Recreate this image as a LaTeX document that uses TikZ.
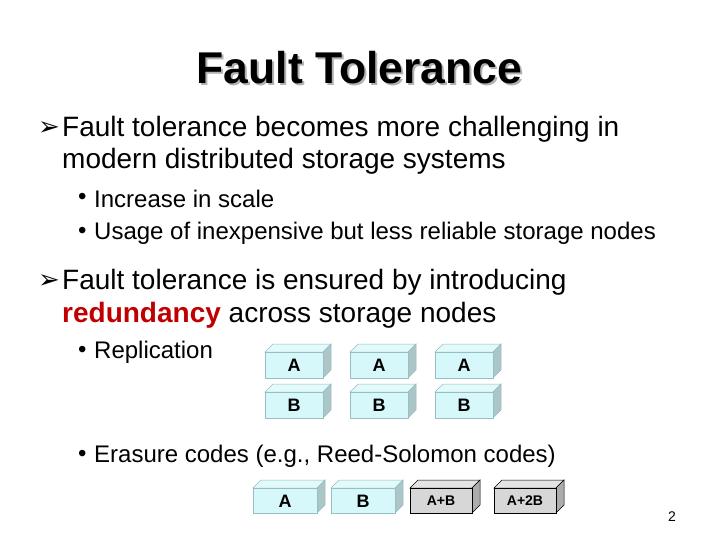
\documentclass[tikz,border=0pt]{standalone}
\usepackage{fontspec}
\setmainfont{Liberation Sans}
\newfontfamily\djfont{DejaVu Sans}
\definecolor{boxc}{RGB}{215,248,250}
\definecolor{boxe}{RGB}{150,190,195}
\definecolor{grayc}{RGB}{215,215,215}
\definecolor{redt}{RGB}{192,0,0}
\tikzset{
 main/.style={anchor=west,font=\fontsize{28}{32}\selectfont,inner sep=0,align=left},
 sub/.style={anchor=west,font=\fontsize{24}{28}\selectfont,inner sep=0},
 arr/.style={anchor=west,font=\djfont\fontsize{26}{28}\selectfont,inner sep=0},
 lbl/.style={font=\bfseries\fontsize{18}{20}\selectfont,inner sep=0},
 slbl/.style={font=\bfseries\fontsize{14}{16}\selectfont,inner sep=0}
}
\newcommand{\mycube}[6]{% x y w h fill edge
 \fill[#5!70!white,draw=#6,line width=0.5pt] (#1,#2+#4)--++(8,-8)--++(#3,0)--++(-8,8)--cycle;
 \fill[#5!80!black,draw=#6,line width=0.5pt] (#1+#3,#2)--++(8,-8)--++(0,#4)--++(-8,8)--cycle;
 \draw[fill=#5,draw=#6,line width=0.5pt] (#1,#2) rectangle ++(#3,#4);
}
\begin{document}
\begin{tikzpicture}[x=1pt,y=-1pt]
\useasboundingbox (0,0) rectangle (720,540);
\node[font=\bfseries\fontsize{44.5}{48}\selectfont,text=gray!60,inner sep=0] at (361.5,69.5) {Fault Tolerance};
\node[font=\bfseries\fontsize{44.5}{48}\selectfont,inner sep=0] (t) at (359.5,67.5) {Fault Tolerance};
\node[arr] (a1) at (38,129) {➢};
\node[main] (l1) at (62,129) {Fault tolerance becomes more challenging in};
\node[main] (l2) at (62,161) {modern distributed storage systems};
\node[sub] (b1) at (78,199) {•}; \node[sub] (s1) at (94,199) {Increase in scale};
\node[sub] (b2) at (78,233) {•}; \node[sub] (s2) at (94,233) {Usage of inexpensive but less reliable storage nodes};
\node[arr] (a2) at (38,282) {➢};
\node[main] (l3) at (62,282) {Fault tolerance is ensured by introducing};
\node[main] (l4) at (62,315) {\textcolor{redt}{\bfseries redundancy} across storage nodes};
\node[sub] (b3) at (78,352) {•}; \node[sub] (s3) at (94,352) {Replication};
\node[sub] (b4) at (78,456) {•}; \node[sub] (s4) at (94,456) {Erasure codes (e.g., Reed-Solomon codes)};
\foreach \x/\n in {265/1,350/2,435/3}{
 \mycube{\x}{378}{58}{-26}{boxc}{boxe}
 \node[lbl] (ra\n) at (\x+29,365) {A};
 \mycube{\x}{418}{58}{-26}{boxc}{boxe}
 \node[lbl] (rb\n) at (\x+29,405) {B};
}
\mycube{253}{513}{64}{-25}{boxc}{boxe}
\node[lbl] (ea) at (285,501) {A};
\mycube{331}{513}{64}{-25}{boxc}{boxe}
\node[lbl] (eb) at (363,501) {B};
\mycube{410}{513}{62}{-25}{grayc}{black}
\node[slbl] (eab) at (441,500.5) {A+B};
\mycube{494}{513}{62}{-25}{grayc}{black}
\node[slbl] (ea2b) at (525,500.5) {A+2B};
\node[font=\fontsize{14}{16}\selectfont,inner sep=0] (pg) at (672,517) {2};
\end{tikzpicture}
\end{document}
